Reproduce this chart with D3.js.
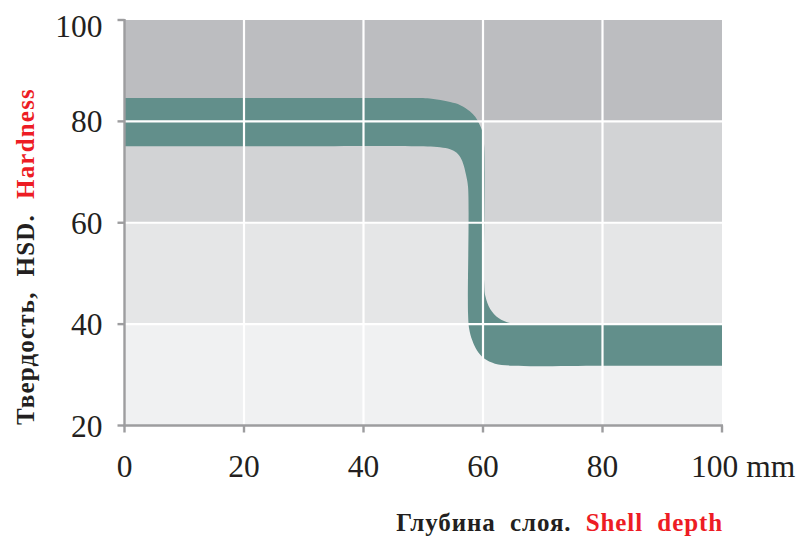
<!DOCTYPE html>
<html>
<head>
<meta charset="utf-8">
<script src="https://cdn.jsdelivr.net/npm/d3@7"></script>
<style>
  body { margin: 0; background: #fff; }
  svg { display: block; }
</style>
</head>
<body>
<div id="chart"></div>
<script>
// data
const xTicks = [0, 20, 40, 60, 80, 100];
const yTicks = [20, 40, 60, 80, 100];
const bandEdges = [20, 40, 60, 80, 100];
const bandColors = ["#f0f1f2", "#e5e6e7", "#d2d3d5", "#bcbdc0"];

// upper / right edge of the hardness band (depth mm, HSD)
const upperDepth = [0, 30, 47.8, 51.1, 54.5, 56.2, 57.8, 58.7, 59.3, 59.9, 60.2, 60.2, 60.4, 61.2, 62.6, 64.5, 66, 80, 100];
const upperHard  = [84.6, 84.6, 84.6, 84.5, 83.8, 83.2, 82.0, 80.9, 79.7, 78, 75, 48, 45.5, 43, 41.2, 40.2, 40, 40, 40];
// lower / left edge, listed from right to left
const lowerDepth = [100, 80, 65, 62, 60.2, 59, 58.2, 57.7, 57.5, 57.5, 57.2, 56.8, 56.4, 55.6, 54.5, 52.8, 48, 30, 0];
const lowerHard  = [31.8, 31.8, 31.8, 32.2, 33.2, 34.8, 36.8, 39, 42, 67, 69.2, 71.2, 72.5, 73.8, 74.5, 74.9, 75.1, 75.1, 75.1];

const xLabel = ["Глубина  слоя.  ", "Shell  depth"];
const yLabel = ["Твердость,  HSD.  ", "Hardness"];

const width = 797, height = 536;

const svg = d3.select("#chart").append("svg")
  .attr("width", width)
  .attr("height", height);

const x = d3.scaleLinear().domain([0, 100]).range([124.5, 722]);
const y = d3.scaleLinear().domain([20, 100]).range([425.5, 20]);

// background bands
svg.append("g")
  .selectAll("rect")
  .data(bandColors)
  .join("rect")
  .attr("x", x(0))
  .attr("width", x(100) - x(0))
  .attr("y", (d, i) => y(bandEdges[i + 1]))
  .attr("height", (d, i) => y(bandEdges[i]) - y(bandEdges[i + 1]))
  .attr("fill", d => d);

svg.append("clipPath").attr("id", "plot")
  .append("rect")
  .attr("x", x(0)).attr("y", y(100))
  .attr("width", x(100) - x(0)).attr("height", y(20) - y(100));

// hardness band
const edge = d3.line()
  .x(d => x(d[0]))
  .y(d => y(d[1]))
  .curve(d3.curveCatmullRom.alpha(0.5));

const upper = upperDepth.map((d, i) => [d, upperHard[i]]);
const lower = lowerDepth.map((d, i) => [d, lowerHard[i]]);

svg.append("path")
  .attr("clip-path", "url(#plot)")
  .attr("d", edge(upper) + "L" + edge(lower).slice(1) + "Z")
  .attr("fill", "#628f8b");

// grid
svg.append("g")
  .selectAll("line")
  .data(xTicks.filter(d => d > 0 && d < 100))
  .join("line")
  .attr("x1", d => x(d)).attr("x2", d => x(d))
  .attr("y1", y(100)).attr("y2", y(20))
  .attr("stroke", "#fff")
  .attr("stroke-width", 2.2);

svg.append("g")
  .selectAll("line")
  .data(yTicks.filter(d => d > 20 && d < 100))
  .join("line")
  .attr("x1", x(0)).attr("x2", x(100))
  .attr("y1", d => y(d)).attr("y2", d => y(d))
  .attr("stroke", "#fff")
  .attr("stroke-width", 2.2);

// axes
const axisColor = "#9d9d9f";
const ax = svg.append("g").attr("stroke", axisColor).attr("stroke-width", 2.4);
ax.append("line").attr("x1", x(0)).attr("x2", x(0)).attr("y1", y(100) - 1).attr("y2", y(20) + 1);
ax.append("line").attr("x1", x(0) - 1).attr("x2", x(100) + 1).attr("y1", y(20)).attr("y2", y(20));
ax.selectAll(".yt").data(yTicks).join("line")
  .attr("x1", x(0) - 7).attr("x2", x(0))
  .attr("y1", d => y(d)).attr("y2", d => y(d));
ax.selectAll(".xt").data(xTicks).join("line")
  .attr("x1", d => x(d)).attr("x2", d => x(d))
  .attr("y1", y(20)).attr("y2", y(20) + 7);

const font = "'Liberation Serif', 'Times New Roman', serif";

svg.append("g")
  .selectAll("text")
  .data(yTicks)
  .join("text")
  .attr("x", x(0) - 22)
  .attr("y", d => y(d) + (d === 100 ? 17 : 11))
  .attr("text-anchor", "end")
  .attr("font-family", font)
  .attr("font-size", 31.5)
  .attr("fill", "#231f20")
  .text(d => d);

svg.append("g")
  .selectAll("text")
  .data(xTicks)
  .join("text")
  .attr("x", d => d === 100 ? x(d) - 31 : x(d))
  .attr("y", 477)
  .attr("text-anchor", d => d === 100 ? "start" : "middle")
  .attr("font-family", font)
  .attr("font-size", 31.5)
  .attr("fill", "#231f20")
  .text(d => d === 100 ? d + " mm" : d);

// axis titles
const xt = svg.append("text")
  .attr("x", x(100) + 1)
  .attr("y", 530.5)
  .attr("text-anchor", "end")
  .attr("font-family", font)
  .attr("font-size", 25)
  .attr("font-weight", "bold")
  .attr("letter-spacing", 0.9)
  .style("white-space", "pre");
xt.append("tspan").attr("fill", "#231f20").text(xLabel[0]);
xt.append("tspan").attr("fill", "#ed1c24").text(xLabel[1]);

const yt = svg.append("text")
  .attr("transform", "translate(34,88) rotate(-90)")
  .attr("text-anchor", "end")
  .attr("font-family", font)
  .attr("font-size", 25)
  .attr("font-weight", "bold")
  .attr("letter-spacing", 1.2)
  .style("white-space", "pre");
yt.append("tspan").attr("fill", "#231f20").text(yLabel[0]);
yt.append("tspan").attr("fill", "#ed1c24").text(yLabel[1]);
</script>
</body>
</html>
